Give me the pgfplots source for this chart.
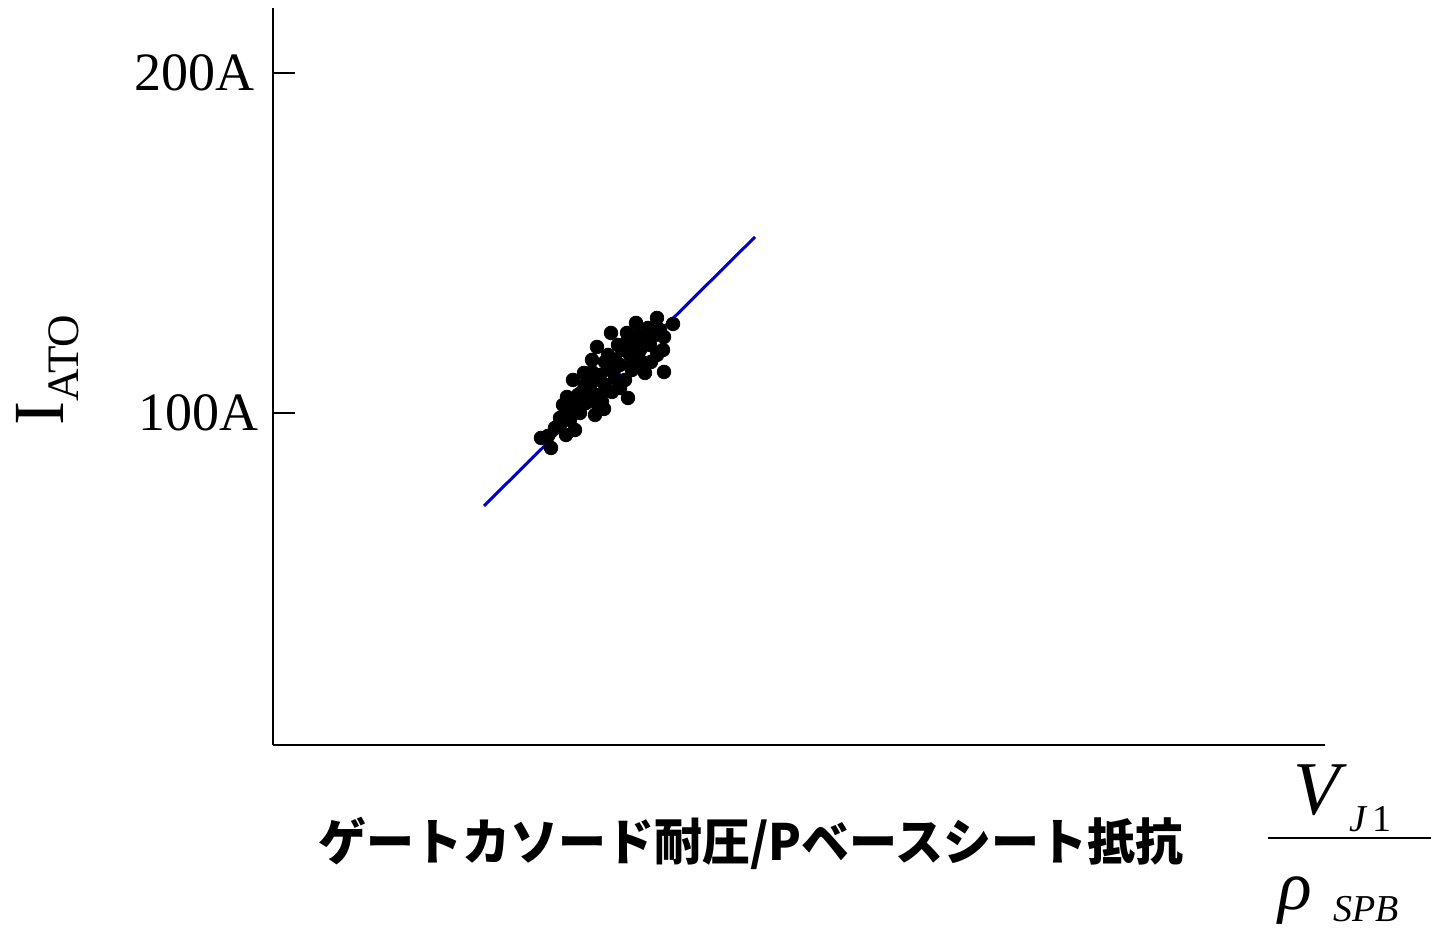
\documentclass[border=0pt]{standalone}
\usepackage{pgfplots}
\pgfplotsset{compat=1.18}
\usepackage{fontspec}
\setmainfont{Liberation Serif}
\newfontfamily\jpfont{Noto Sans CJK JP}
\definecolor{fitblue}{RGB}{0,0,204}
\begin{document}
\begin{tikzpicture}
\path[use as bounding box] (-136.5pt,-92pt) rectangle (579pt,372.5pt);
\begin{axis}[
  scale only axis, width=526pt, height=368.5pt,
  xmin=273, xmax=1325, ymin=2.35, ymax=219.1,
  axis x line=bottom, axis y line=left,
  axis line style={line width=1pt,-,black},
  xtick=\empty, ytick={100,200}, yticklabels={100A\kern-3pt,200A\kern-1pt},
  tick align=inside, major tick length=11pt,
  tick style={line width=1pt, black},
  yticklabel style={font=\fontsize{27}{27}\selectfont, inner sep=0pt, xshift=-10pt},
  /pgf/number format/assume math mode=true,
  clip=false,
]
\addplot[only marks, mark=*, mark size=3.4pt, black] table {
x y
541 92.65
548 93.24
551 89.71
560 96.47
566 93.53
575 95.00
563 102.35
567 104.71
573 109.71
584 111.76
592 115.59
597 119.41
611 123.53
627 123.53
636 126.47
657 127.94
673 126.18
664 122.35
663 118.53
651 115.00
664 112.06
645 111.76
628 104.41
604 101.18
595 99.41
586 102.94
580 100.00
570 100.29
560 98.53
578 105.29
585 108.24
590 106.76
595 109.71
600 111.18
605 108.24
600 105.29
610 112.65
615 115.59
620 114.12
615 110.29
622 118.53
630 117.06
635 120.00
640 118.53
645 121.47
650 120.00
655 122.94
642 115.00
632 112.65
625 109.71
612 106.18
602 103.24
590 104.41
582 106.18
575 102.35
608 117.06
618 120.00
628 121.47
648 125.00
660 124.41
657 117.06
638 122.94
592 112.06
605 115.00
570 97.94
555 95.59
598 102.35
620 107.35
633 115.59
};
\addplot[fitblue, line width=1.5pt] coordinates {(484,72.65) (755,151.76)};
\end{axis}
% y label
\node[rotate=90, inner sep=0pt] at (-112.5pt,187.5pt)
  {\fontsize{36}{36}\selectfont I\raisebox{-7.5pt}{\fontsize{22.5}{22.5}\selectfont ATO}};
% x label
\node[inner sep=0pt] at (239pt,-49pt)
  {\scalebox{0.96}[1]{\jpfont\bfseries\fontsize{25}{25}\selectfont ゲートカソード耐圧/Pベースシート抵抗}};
% fraction
\draw[line width=1pt] (497.5pt,-46.5pt) -- (579pt,-46.5pt);
\node[anchor=base west, inner sep=0pt] at (510pt,-35pt) {\fontsize{38}{38}\selectfont\itshape V};
\node[anchor=base west, inner sep=0pt] at (538pt,-43.5pt) {\fontsize{19}{19}\selectfont{\itshape J}\,1};
\node[anchor=base west, inner sep=0pt] at (502.5pt,-82.5pt) {\fontsize{35}{35}\selectfont\itshape ρ};
\node[anchor=base west, inner sep=0pt] at (530pt,-88.5pt) {\fontsize{19}{19}\selectfont\itshape SPB};
\end{tikzpicture}
\end{document}
